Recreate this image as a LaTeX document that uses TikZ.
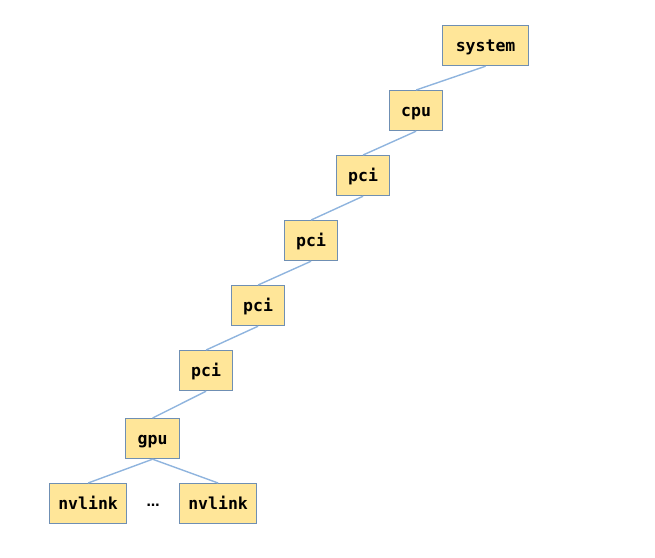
\documentclass[tikz,border=0pt]{standalone}
\usepackage{fontspec}
\newfontfamily\boxfont{DejaVu Sans Mono}
\newfontfamily\dotfont{DejaVu Sans}
\definecolor{boxfill}{HTML}{FFE699}
\definecolor{boxdraw}{HTML}{6F8FB3}
\definecolor{linkcol}{HTML}{8FB4DE}
\begin{document}
\begin{tikzpicture}[x=1pt,y=-1pt,
  nbox/.style={draw=boxdraw,fill=boxfill,line width=1.2pt,inner sep=0pt,
    text height=13pt,text depth=1pt,
    font=\boxfont\fontsize{16.5}{18}\selectfont\bfseries,anchor=north west},
  link/.style={draw=linkcol,line width=1.4pt}]
\useasboundingbox (0,0) rectangle (655,557);
\node[nbox,minimum width=86pt,minimum height=40pt] (sys) at (442,25) {system};
\node[nbox,minimum width=53pt,minimum height=40pt] (cpu) at (389,90) {cpu};
\node[nbox,minimum width=53pt,minimum height=40pt] (p1) at (336,155) {pci};
\node[nbox,minimum width=53pt,minimum height=40pt] (p2) at (284,220) {pci};
\node[nbox,minimum width=53pt,minimum height=40pt] (p3) at (231,285) {pci};
\node[nbox,minimum width=53pt,minimum height=40pt] (p4) at (179,350) {pci};
\node[nbox,minimum width=54pt,minimum height=40pt] (gpu) at (125,418) {gpu};
\node[nbox,minimum width=77pt,minimum height=40pt] (nv1) at (49,483) {nvlink};
\node[nbox,minimum width=77pt,minimum height=40pt] (nv2) at (179,483) {nvlink};
\node[font=\dotfont\fontsize{13}{15}\selectfont\bfseries,inner sep=0pt] (dots) at (153,505) {…};
\draw[link] (sys.south) -- (cpu.north);
\draw[link] (cpu.south) -- (p1.north);
\draw[link] (p1.south) -- (p2.north);
\draw[link] (p2.south) -- (p3.north);
\draw[link] (p3.south) -- (p4.north);
\draw[link] (p4.south) -- (gpu.north);
\draw[link] (gpu.south) -- (nv1.north);
\draw[link] (gpu.south) -- (nv2.north);
\end{tikzpicture}
\end{document}
